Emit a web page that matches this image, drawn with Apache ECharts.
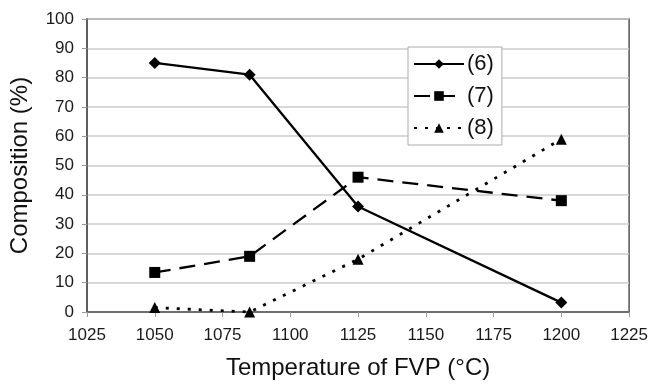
<!DOCTYPE html>
<html>
<head>
<meta charset="utf-8">
<script src="https://cdn.jsdelivr.net/npm/echarts@6/dist/echarts.min.js"></script>
<style>
  html, body { margin: 0; padding: 0; background: #fff; }
  #chart { width: 651px; height: 386px; }
</style>
</head>
<body>
<div id="chart"></div>
<script>
// temperatures (°C)
const temps = [1050, 1085, 1125, 1200];
// composition (%) per compound
const comp6 = [85, 81, 36, 3.2];
const comp7 = [13.5, 19, 46, 38];
const comp8 = [1.5, 0, 18, 59];

const chart = echarts.init(document.getElementById('chart'));

const pairs = (ys) => temps.map((t, i) => [t, ys[i]]);
const font = 'Liberation Sans, Arial, sans-serif';

const option = {
  animation: false,
  backgroundColor: '#fff',
  grid: {
    left: 87, right: 20, top: 19, bottom: 74,
    show: true, borderColor: '#555', borderWidth: 1.5, backgroundColor: 'transparent'
  },
  legend: {
    orient: 'vertical',
    left: 408, top: 47,
    padding: [6, 8, 6, 5],
    itemGap: 10,
    itemWidth: 50, itemHeight: 12,
    backgroundColor: '#fff',
    borderColor: '#aaa', borderWidth: 1,
    textStyle: { fontFamily: font, fontSize: 22, color: '#111', padding: [0, 0, 0, -2] },
    data: ['(6)', '(7)', '(8)']
  },
  xAxis: {
    type: 'value',
    min: 1025, max: 1225, interval: 25,
    name: 'Temperature of FVP (°C)',
    nameLocation: 'middle', nameGap: 44,
    nameTextStyle: { fontFamily: font, fontSize: 24, color: '#111' },
    axisLine: { lineStyle: { color: '#555', width: 1.5 } },
    axisTick: { show: true, length: 5, lineStyle: { color: '#999' } },
    axisLabel: { fontFamily: font, fontSize: 17, color: '#1a1a1a', margin: 15, formatter: (v) => String(v) },
    splitLine: { show: false }
  },
  yAxis: {
    type: 'value',
    min: 0, max: 100, interval: 10,
    name: 'Composition (%)',
    nameLocation: 'middle', nameGap: 55,
    nameTextStyle: { fontFamily: font, fontSize: 24, color: '#111' },
    axisLine: { show: true, lineStyle: { color: '#555', width: 1.5 } },
    axisTick: { show: true, length: 5, lineStyle: { color: '#999' } },
    axisLabel: { fontFamily: font, fontSize: 17, color: '#1a1a1a', margin: 13 },
    splitLine: { show: true, lineStyle: { color: '#ccc', width: 1.5 } }
  },
  series: [
    {
      name: '(6)', type: 'line', data: pairs(comp6),
      symbol: 'diamond', symbolSize: 12,
      itemStyle: { color: '#000' },
      lineStyle: { color: '#000', width: 2.3 }
    },
    {
      name: '(7)', type: 'line', data: pairs(comp7),
      symbol: 'rect', symbolSize: 11,
      itemStyle: { color: '#000' },
      lineStyle: { color: '#000', width: 2.3, type: [16, 9] }
    },
    {
      name: '(8)', type: 'line', data: pairs(comp8),
      symbol: 'triangle', symbolSize: 11,
      itemStyle: { color: '#000' },
      lineStyle: { color: '#000', width: 2.8, type: [3, 8] }
    }
  ]
};

chart.setOption(option);
</script>
</body>
</html>
